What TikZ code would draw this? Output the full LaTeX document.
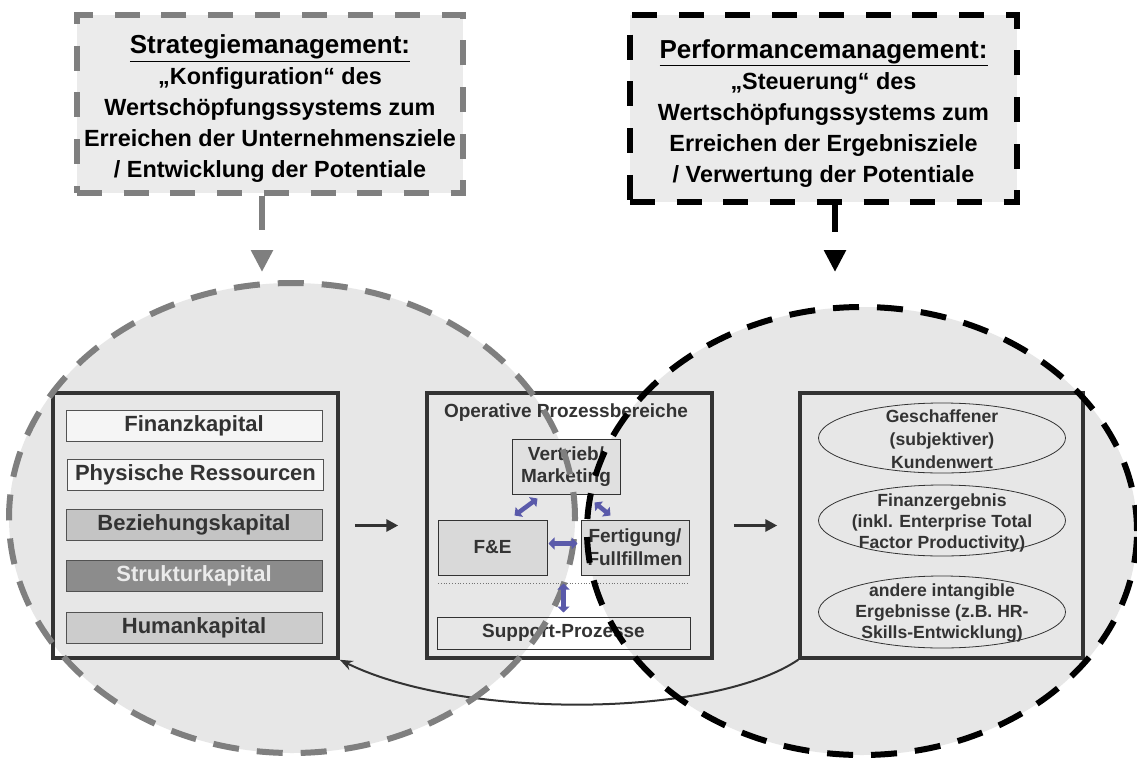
\documentclass[tikz,border=0pt]{standalone}
\usepackage{fontspec}
\setmainfont{Liberation Sans}
\usetikzlibrary{arrows.meta,calc,shapes.geometric}
\definecolor{bgfill}{HTML}{E7E7E7}
\definecolor{boxfill}{HTML}{EBEBEB}
\definecolor{dk}{HTML}{333333}
\definecolor{gdash}{HTML}{7F7F7F}
\definecolor{blu}{HTML}{5A5AAA}
\newcommand\myfs[2]{\fontsize{#1}{#2}\selectfont}
\begin{document}
\begin{tikzpicture}[x=1pt,y=-1pt,
  topbox/.style={line width=6pt, dash pattern=on 25pt off 21.7pt, fill=boxfill, inner sep=0pt},
  toptext/.style={align=center, inner sep=0pt, font=\myfs{23.4}{31}\bfseries, text=black, yshift=-5pt},
  bigbox/.style={draw=dk, line width=3.5pt, minimum width=285pt, minimum height=265pt, inner sep=0pt},
  capbox/.style={draw=dk!85, line width=1pt, minimum width=256pt, minimum height=31pt, inner sep=0pt, font=\myfs{22}{26}\bfseries, text=dk},
  procbox/.style={draw=dk, line width=1pt, minimum width=108pt, minimum height=55pt, inner sep=0pt, align=center, font=\myfs{19}{22}\bfseries, text=dk},
  resell/.style={ellipse, draw=dk, line width=0.8pt, minimum width=247pt, minimum height=71pt, inner sep=0pt},
  restext/.style={align=center, font=\myfs{17.6}{21}\bfseries, text=dk, inner sep=0pt},
  flow/.style={dk, line width=3pt, -{Triangle[length=12pt,width=12pt]}},
  blue2/.style={draw=blu, line width=4.5pt, {Triangle[length=6pt,width=12pt]}-{Triangle[length=6pt,width=12pt]}},
  ringdash/.style={line width=6pt, dash pattern=on 26pt off 18pt}
]
\useasboundingbox (0,0) rectangle (1137,760);
\fill[white] (0,0) rectangle (1137,760);

% ellipse fills (overlap left white)
\fill[bgfill, even odd rule] (292,518) ellipse [x radius=283pt, y radius=235pt]
                             (862,531) ellipse [x radius=275pt, y radius=224pt];

% top boxes
\node[topbox, draw=gdash, minimum width=386pt, minimum height=178pt,
  label={[toptext]center:{{\myfs{26}{31}\underline{Strategiemanagement:}}\\„Konfiguration“ des\\Wertschöpfungssystems zum\\Erreichen der Unternehmensziele\\/ Entwicklung der Potentiale}}] (tl) at (270,104) {};
\node[topbox, draw=black, minimum width=387pt, minimum height=187pt,
  label={[toptext]center:{{\myfs{26}{31}\underline{Performancemanagement:}}\\„Steuerung“ des\\Wertschöpfungssystems zum\\Erreichen der Ergebnisziele\\/ Verwertung der Potentiale}}] (tr) at (823.5,108.5) {};
\coordinate (tltip) at (262,272);
\coordinate (trtip) at (835,272);
\draw[gdash, line width=6pt, dash pattern=on 34pt off 60pt, -{Triangle[length=22pt,width=21pt]}] (tl.south -| tltip) -- (tltip);
\draw[black, line width=6pt, dash pattern=on 27pt off 60pt, -{Triangle[length=22pt,width=21pt]}] (tr.south -| trtip) -- (trtip);

% left box: resources
\node[bigbox] (lb) at (195.5,525.5) {};
\node[capbox, fill=white!96!black] (fin) at (194,425.5) {Finanzkapital};
\node[capbox, fill=white!96!black] (phy) at (195.5,474.5) {Physische Ressourcen};
\node[capbox, fill=black!23] (bez) at (194,524.5) {Beziehungskapital};
\node[capbox, fill=black!45, text=white!92!black] (str) at (194,576) {Strukturkapital};
\node[capbox, fill=black!20] (hum) at (194,628) {Humankapital};

% middle box: processes
\node[bigbox] (mb) at (569.5,525.5) {};
\node[font=\myfs{19}{22}\bfseries, text=dk, inner sep=0pt] (opt) at (566,413) {Operative Prozessbereiche};
\node[procbox, fill=black!12] (vm) at (566,466.5) {Vertrieb/\\Marketing};
\node[procbox, fill=black!15, minimum width=109pt] (fe) at (492.5,547.5) {F\&E};
\node[procbox, fill=black!14, font=\myfs{19}{23}\bfseries] (fz) at (635,547.5) {Fertigung/\\Fullfillmen};
\draw[black!55, line width=0.8pt, dotted] (438,583) -- (688,583);
\node[procbox, minimum width=253pt, minimum height=32pt] (sp) at (563.5,633) {Support-Prozesse};

% right box: results
\node[bigbox, minimum width=283pt] (rb) at (941.5,525.5) {};
\node[resell, minimum height=70pt] (e1) at (942,438) {};
\node[resell] (e2) at (942,520.5) {};
\node[resell, minimum height=72pt] (e3) at (942,612) {};
\node[restext, font=\myfs{17.6}{23}\bfseries] at ($(e1.center)+(0,1.5)$) {Geschaffener\\(subjektiver)\\Kundenwert};
\node[restext] at ($(e2.center)+(0,2)$) {Finanzergebnis\\(inkl. Enterprise Total\\Factor Productivity)};
\node[restext] at ($(e3.center)+(0,1)$) {andere intangible\\Ergebnisse (z.B. HR-\\Skills-Entwicklung)};

% flow arrows
\draw[flow, shorten <=15pt, shorten >=27pt] (lb.east) -- (mb.west);
\draw[flow, shorten <=20pt, shorten >=21pt] (mb.east) -- (rb.west);

% feedback curve
\draw[dk, line width=2pt, -{Stealth[length=13pt,width=10pt]}] (rb.south west) .. controls (712,718) and (462,720) .. (lb.south east);

% ellipse outlines on top
\draw[gdash, ringdash] (292,518) ellipse [x radius=283pt, y radius=235pt];
\draw[black, ringdash] (862,531) ellipse [x radius=275pt, y radius=224pt];

% blue double arrows
\draw[blue2] ($(fe.north east)+(-33,-4)$) -- ($(vm.south west)+(26,4)$);
\draw[blue2] ($(vm.south east)+(-26,8)$) -- ($(fz.north west)+(30,-4)$);
\draw[blue2] ($(fe.east)+(1,-4)$) -- ($(fz.west)+(-3,-4)$);
\draw[blue2] ($(sp.north)+(0,-4)$) -- ($(sp.north)+(0,-33)$);
\end{tikzpicture}
\end{document}
